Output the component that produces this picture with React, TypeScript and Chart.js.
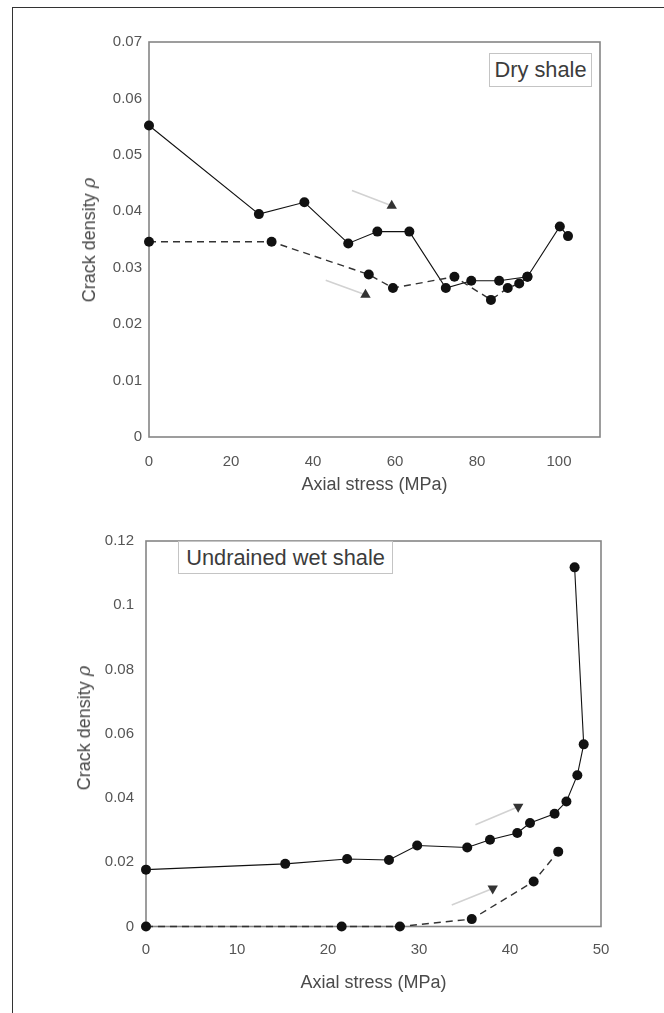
import React, { useEffect, useRef } from "react";
import { Chart, registerables } from "chart.js";

Chart.register(...registerables);

const FONT = "'Liberation Sans', Arial, Helvetica, sans-serif";

// ---- Dry shale (top panel) ----
const dryLoadX = [0, 26.8, 37.9, 48.6, 55.7, 63.5, 72.4, 78.6, 85.4, 92.3, 100.2, 102.2];
const dryLoadY = [0.0552, 0.0395, 0.0416, 0.0343, 0.0364, 0.0364, 0.0264, 0.0277, 0.0277, 0.0284, 0.0373, 0.0356];
const dryUnloadX = [0, 29.9, 53.6, 59.5, 74.5, 83.4, 87.5, 90.3, 92.3];
const dryUnloadY = [0.0346, 0.0346, 0.0288, 0.0264, 0.0284, 0.0243, 0.0264, 0.0272, 0.0284];
const dryArrowUpperX = [49.5, 59.2];
const dryArrowUpperY = [0.0437, 0.041];
const dryArrowLowerX = [43.1, 52.8];
const dryArrowLowerY = [0.0278, 0.0252];
const dryXTicks = [0, 20, 40, 60, 80, 100];
const dryYTicks = [0, 0.01, 0.02, 0.03, 0.04, 0.05, 0.06, 0.07];
const dryXMax = 110;
const dryYMax = 0.07;

// ---- Undrained wet shale (bottom panel) ----
const wetLoadX = [0, 15.3, 22.1, 26.7, 29.8, 35.3, 37.8, 40.8, 42.2, 44.9, 46.2, 47.4, 48.1, 47.1];
const wetLoadY = [0.0177, 0.0195, 0.021, 0.0207, 0.0252, 0.0246, 0.027, 0.0291, 0.0322, 0.0351, 0.0389, 0.0471, 0.0567, 0.1118];
const wetUnloadX = [0, 21.5, 27.9, 35.8, 42.6, 45.3];
const wetUnloadY = [0, 0, 0, 0.0023, 0.014, 0.0233];
const wetArrowUpperX = [36.2, 40.9];
const wetArrowUpperY = [0.0317, 0.0373];
const wetArrowLowerX = [33.6, 38.1];
const wetArrowLowerY = [0.0067, 0.0118];
const wetXTicks = [0, 10, 20, 30, 40, 50];
const wetYTicks = [0, 0.02, 0.04, 0.06, 0.08, 0.1, 0.12];
const wetXMax = 50;
const wetYMax = 0.12;

const X_TITLE = "Axial stress (MPa)";

function pts(xs: number[], ys: number[]) {
  return xs.map((x, i) => ({ x, y: ys[i] }));
}

const boxPlugin = {
  id: "boxPlugin",
  beforeDatasetsDraw(chart: any) {
    const { ctx, chartArea: a } = chart;
    ctx.save();
    ctx.strokeStyle = "#858585";
    ctx.lineWidth = 1.6;
    ctx.strokeRect(a.left, a.top, a.right - a.left, a.bottom - a.top);
    ctx.restore();
  },
};

function makeDatasets(
  loadX: number[], loadY: number[], unX: number[], unY: number[],
  aUX: number[], aUY: number[], aLX: number[], aLY: number[], arrowRot: number
) {
  const arrow = (xs: number[], ys: number[]) => ({
    data: pts(xs, ys),
    showLine: true,
    borderColor: "#d2d2d2",
    borderWidth: 1.6,
    pointRadius: [0, 6],
    pointStyle: "triangle",
    rotation: arrowRot,
    pointBackgroundColor: "#333",
    pointBorderColor: "#333",
    pointBorderWidth: 0,
    clip: false,
  });
  return [
    arrow(aUX, aUY),
    arrow(aLX, aLY),
    {
      data: pts(unX, unY),
      showLine: true,
      borderColor: "#333",
      borderWidth: 1.4,
      borderDash: [7, 5],
      pointRadius: 5,
      pointBackgroundColor: "#111",
      pointBorderColor: "#111",
      pointBorderWidth: 0,
      clip: false,
    },
    {
      data: pts(loadX, loadY),
      showLine: true,
      borderColor: "#111",
      borderWidth: 1.1,
      pointRadius: 5,
      pointBackgroundColor: "#111",
      pointBorderColor: "#111",
      pointBorderWidth: 0,
      clip: false,
    },
  ];
}

type PanelProps = {
  top: number;
  height: number;
  datasets: any[];
  xTicks: number[];
  yTicks: number[];
  xMax: number;
  yMax: number;
  padTop: number;
  padRight: number;
  yWidth: number;
  xHeight: number;
  yTickPad: number;
  xTickPad: number;
  xTitlePadBottom: number;
};

function Panel(p: PanelProps) {
  const ref = useRef<HTMLCanvasElement | null>(null);
  useEffect(() => {
    if (!ref.current) return;
    const tickFont = { family: FONT, size: 15 };
    const chart = new Chart(ref.current, {
      type: "scatter",
      data: { datasets: p.datasets },
      options: {
        animation: false,
        responsive: false,
        maintainAspectRatio: false,
        layout: { padding: { top: p.padTop, right: p.padRight, left: 0, bottom: 0 } },
        plugins: { legend: { display: false }, tooltip: { enabled: false } },
        scales: {
          x: {
            type: "linear",
            min: 0,
            max: p.xMax,
            afterFit: (s: any) => { s.height = p.xHeight; },
            afterBuildTicks: (s: any) => { s.ticks = p.xTicks.map((v) => ({ value: v })); },
            border: { display: false },
            grid: { display: false, drawTicks: false },
            ticks: { padding: p.xTickPad, font: tickFont, color: "#555", maxRotation: 0, autoSkip: false, callback: (v: any) => String(v) },
            title: {
              display: true,
              text: X_TITLE,
              color: "#4a4a4a",
              font: { family: FONT, size: 18 },
              padding: { top: 0, bottom: p.xTitlePadBottom },
            },
          },
          y: {
            type: "linear",
            min: 0,
            max: p.yMax,
            afterFit: (s: any) => { s.width = p.yWidth; },
            afterBuildTicks: (s: any) => { s.ticks = p.yTicks.map((v) => ({ value: v })); },
            border: { display: false },
            grid: { display: false, drawTicks: false },
            ticks: { padding: p.yTickPad, font: tickFont, color: "#555", autoSkip: false, callback: (v: any) => String(v) },
            title: { display: false },
          },
        },
      } as any,
      plugins: [boxPlugin],
    });
    return () => chart.destroy();
  }, []);
  return (
    <canvas
      ref={ref}
      width={664}
      height={p.height}
      style={{ position: "absolute", left: 0, top: p.top, width: 664, height: p.height }}
    />
  );
}

function YTitle({ cx, cy }: { cx: number; cy: number }) {
  return (
    <div
      style={{
        position: "absolute",
        left: cx,
        top: cy,
        transform: "translate(-50%, -50%) rotate(-90deg)",
        whiteSpace: "nowrap",
        fontFamily: FONT,
        fontSize: 18,
        color: "#4a4a4a",
        lineHeight: "22px",
      }}
    >
      Crack density <i style={{ fontFamily: "'DejaVu Serif', serif" }}>ρ</i>
    </div>
  );
}

function LabelBox({ left, top, width, height, text }: any) {
  return (
    <div
      style={{
        position: "absolute",
        left,
        top,
        width,
        height,
        boxSizing: "border-box",
        border: "1px solid #c4c4c4",
        fontFamily: FONT,
        fontSize: 21.8,
        color: "#3c3c3c",
        display: "flex",
        alignItems: "center",
        justifyContent: "center",
        whiteSpace: "nowrap",
        background: "#fff",
      }}
    >
      {text}
    </div>
  );
}

export default function App() {
  const dryData = makeDatasets(dryLoadX, dryLoadY, dryUnloadX, dryUnloadY, dryArrowUpperX, dryArrowUpperY, dryArrowLowerX, dryArrowLowerY, 0);
  const wetData = makeDatasets(wetLoadX, wetLoadY, wetUnloadX, wetUnloadY, wetArrowUpperX, wetArrowUpperY, wetArrowLowerX, wetArrowLowerY, 180);
  return (
    <div style={{ position: "absolute", left: 0, top: 0, width: 664, height: 1013, background: "#fff", overflow: "hidden" }}>
      <div
        style={{
          position: "absolute",
          left: 12,
          top: 7,
          width: 652,
          height: 1006,
          borderTop: "1px solid #333",
          borderLeft: "1px solid #333",
        }}
      />
      <Panel
        top={0}
        height={520}
        datasets={dryData}
        xTicks={dryXTicks}
        yTicks={dryYTicks}
        xMax={dryXMax}
        yMax={dryYMax}
        padTop={42}
        padRight={64}
        yWidth={149}
        xHeight={83}
        yTickPad={7}
        xTickPad={16}
        xTitlePadBottom={24}
      />
      <Panel
        top={520}
        height={493}
        datasets={wetData}
        xTicks={wetXTicks}
        yTicks={wetYTicks}
        xMax={wetXMax}
        yMax={wetYMax}
        padTop={9.5}
        padRight={63}
        yWidth={146}
        xHeight={86.5}
        yTickPad={12}
        xTickPad={14}
        xTitlePadBottom={19}
      />
      <YTitle cx={89} cy={240} />
      <YTitle cx={84} cy={728} />
      <LabelBox left={489} top={53} width={103} height={34} text="Dry shale" />
      <LabelBox left={178} top={541} width={215} height={33} text="Undrained wet shale" />
    </div>
  );
}
